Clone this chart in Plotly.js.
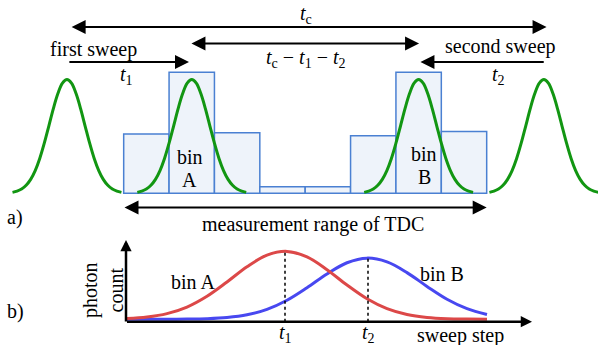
<!DOCTYPE html>
<html>
<head>
<meta charset="utf-8">
<script src="https://cdn.plot.ly/plotly-3.0.1.min.js"></script>
<style>html,body{margin:0;padding:0;background:#fff}#chart{width:598px;height:345px}</style>
</head>
<body>
<div id="chart"></div>
<script>
// ---- panel a) : TDC bins (time in bin widths) ----
const binHeights = [0.49, 1.0, 0.50, 0.055, 0.055, 0.476, 1.0, 0.51];
const pulseCenters = [-1.25, 1.5, 6.5, 9.26];
const pulseOffsets = [-1.2,-1.1,-1.0,-0.9,-0.8,-0.7,-0.6,-0.5,-0.4,-0.3,-0.2,-0.1,0,0.1,0.2,0.3,0.4,0.5,0.6,0.7,0.8,0.9,1.0,1.1,1.2];
const pulseShape = [0.008,0.018,0.035,0.066,0.115,0.188,0.288,0.414,0.556,0.70,0.824,0.91,0.94,0.91,0.824,0.70,0.556,0.414,0.288,0.188,0.115,0.066,0.035,0.018,0.008];
const binNames = ['A', 'B'];

// ---- panel b) : photon count vs sweep step ----
const sweepSteps = [0,2,4,6,8,10,12,14,16,18,20,22,24,26,28,30,32,34,36];
const countBinA = [0.047,0.069,0.119,0.216,0.374,0.584,0.808,0.979,1.034,0.952,0.765,0.539,0.337,0.192,0.106,0.063,0.044,0.038,0.036];
const countBinB = [0.035,0.035,0.036,0.038,0.044,0.061,0.101,0.181,0.315,0.499,0.702,0.867,0.935,0.879,0.722,0.519,0.331,0.192,0.107];
const peakSteps = [15.8, 24.1];
const peakTops = [1.035, 0.935];
const peakLabels = ['<i>t</i><sub>1</sub>', '<i>t</i><sub>2</sub>'];

const FONT = {family: 'Liberation Serif', size: 20, color: '#000'};
const GREEN = '#129612', BARLINE = '#4a80d2', BARFILL = '#eef3fa';
const RED = '#dc4848', BLUE = '#4848f0';

const traces = [];
traces.push({
  type: 'bar', x: binHeights.map((_, i) => i + 0.5), y: binHeights, width: 1,
  marker: {color: BARFILL, line: {color: BARLINE, width: 1.5}},
  xaxis: 'x', yaxis: 'y', hoverinfo: 'skip'
});
pulseCenters.forEach(c => {
  traces.push({
    type: 'scatter', mode: 'lines', x: pulseOffsets.map(o => c + o), y: pulseShape,
    line: {color: GREEN, width: 3, shape: 'spline'}, xaxis: 'x', yaxis: 'y', cliponaxis: false
  });
});
traces.push({type: 'scatter', mode: 'lines', x: sweepSteps, y: countBinB,
  line: {color: BLUE, width: 3, shape: 'spline'}, xaxis: 'x2', yaxis: 'y2'});
traces.push({type: 'scatter', mode: 'lines', x: sweepSteps, y: countBinA,
  line: {color: RED, width: 3, shape: 'spline'}, xaxis: 'x2', yaxis: 'y2'});
peakSteps.forEach((s, i) => {
  traces.push({type: 'scatter', mode: 'lines', x: [s, s], y: [0, peakTops[i]],
    line: {color: '#000', width: 1.5, dash: 'dot'}, xaxis: 'x2', yaxis: 'y2'});
});

const ann = [];
function arrow(ref, x0, y0, x1, y1, both, w, sz) {
  ann.push({xref: 'x' + ref, yref: 'y' + ref, axref: 'x' + ref, ayref: 'y' + ref,
    x: x1, y: y1, ax: x0, ay: y0, text: '', showarrow: true,
    arrowhead: 2, arrowsize: sz || 1.4, arrowwidth: w || 2, arrowcolor: '#000',
    arrowside: both ? 'end+start' : 'end', startarrowhead: 2, startarrowsize: sz || 1.4,
    standoff: 0, startstandoff: 0});
}
function label(ref, x, y, text, extra) {
  ann.push(Object.assign({xref: 'x' + ref, yref: 'y' + ref, x: x, y: y, text: text,
    showarrow: false, font: FONT, xanchor: 'center', yanchor: 'middle'}, extra || {}));
}
// top arrows
arrow('', -1.18, 1.374, 9.32, 1.374, true);
arrow('', 1.46, 1.238, 6.51, 1.238, true);
arrow('', -1.23, 1.085, 1.44, 1.085, false);
arrow('', 9.29, 1.085, 6.54, 1.085, false);
arrow('', -0.015, -0.117, 8.0, -0.117, true);
label('', 4.02, 1.48, '<i>t</i><sub>c</sub>');
label('', 4.0, 1.11, '<i>t</i><sub>c</sub> − <i>t</i><sub>1</sub> − <i>t</i><sub>2</sub>');
label('', -0.66, 1.19, 'first sweep');
label('', 0.07, 0.97, '<i>t</i><sub>1</sub>');
label('', 8.3, 1.21, 'second sweep');
label('', 8.25, 0.97, '<i>t</i><sub>2</sub>');
label('', 4.18, -0.26, 'measurement range of TDC');
label('', -2.40, -0.204, 'a)');
const binTextX = [1.46, 6.62];
binNames.forEach((n, i) => {
  label('', binTextX[i], [0.30, 0.325][i], 'bin');
  label('', binTextX[i], [0.11, 0.135][i], n);
});
// bottom axes
arrow('2', -0.1, -0.02, -0.1, 1.20, false, 2.5, 0.9);
arrow('2', -0.15, 0, 40.5, 0, false, 2.5, 0.9);
peakSteps.forEach((s, i) => label('2', s, -0.17, peakLabels[i]));
label('2', 33.3, -0.21, 'sweep step');
label('2', 6.6, 0.584, 'bin A');
label('2', 31.5, 0.70, 'bin B');
label('2', -2.4, 0.466, 'photon<br>count', {textangle: -90});
label('2', -11.2, 0.157, 'b)');

const layout = {
  width: 598, height: 345, margin: {l: 0, r: 0, t: 0, b: 0},
  paper_bgcolor: '#fff', plot_bgcolor: 'rgba(0,0,0,0)', showlegend: false,
  bargap: 0,
  xaxis: {domain: [0, 1], range: [-2.726, 10.453], visible: false, anchor: 'y'},
  yaxis: {domain: [0.3391, 1], range: [-0.2868, 1.5975], visible: false, anchor: 'x'},
  xaxis2: {domain: [0, 1], range: [-12.7, 47.1], visible: false, anchor: 'y2'},
  yaxis2: {domain: [0, 0.3333], range: [-0.3426, 1.3485], visible: false, anchor: 'x2'},
  annotations: ann,
  font: FONT
};
Plotly.newPlot('chart', traces, layout, {displayModeBar: false, staticPlot: true});
</script>
</body>
</html>
